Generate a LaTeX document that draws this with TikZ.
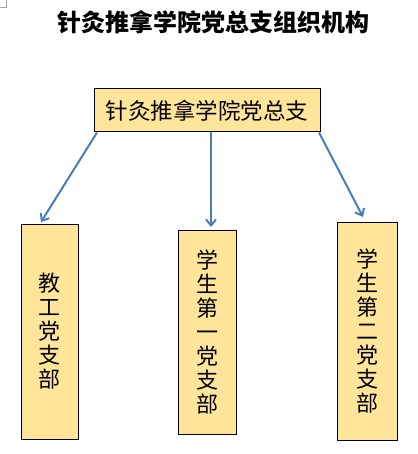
\documentclass[tikz,border=0pt]{standalone}
\usepackage{fontspec}
\newfontfamily\cjk{Noto Sans CJK SC}
\usetikzlibrary{arrows.meta}
\definecolor{boxfill}{HTML}{FFE599}
\definecolor{arrowblue}{HTML}{4A7EBB}
\tikzset{
  orgbox/.style={draw=black, line width=1pt, fill=boxfill, inner sep=0pt},
  vtext/.style={font=\cjk\fontsize{22}{24}\selectfont, align=center},
  link/.style={draw=arrowblue, line width=2pt, -{Straight Barb[length=6pt,width=10pt,line width=2pt]}}
}
\begin{document}
\begin{tikzpicture}[x=1pt,y=-1pt]
\useasboundingbox (0,0) rectangle (417,454);
\draw[gray!70, line width=0.6pt] (6.5,0) -- (6.5,7.5) -- (0,7.5);
\node[font=\cjk\bfseries\fontsize{24}{26}\selectfont] (title) at (213.5,22) {针灸推拿学院党总支组织机构};
\node[orgbox, minimum width=226pt, minimum height=43pt, font=\cjk\fontsize{22.5}{24}\selectfont] (top) at (207,110.5) {针灸推拿学院党总支};
\node[orgbox, minimum width=57pt, minimum height=215pt] (b1) at (49.5,331.5) {};
\node[vtext] (t1) at (b1.center) {教\\工\\党\\支\\部};
\node[orgbox, minimum width=58pt, minimum height=204pt] (b2) at (207,332) {};
\node[vtext] (t2) at (b2.center) {学\\生\\第\\一\\党\\支\\部};
\node[orgbox, minimum width=60pt, minimum height=218pt] (b3) at (367,331) {};
\node[vtext] (t3) at (b3.center) {学\\生\\第\\二\\党\\支\\部};
\coordinate (e1) at (41,222);
\coordinate (e2) at (211,227);
\coordinate (e3) at (363,217);
\draw[link] (top.south -| 97,0) -- (e1);
\draw[link] (top.south -| 211,0) -- (e2);
\draw[link] (top.south -| 319,0) -- (e3);
\end{tikzpicture}
\end{document}
